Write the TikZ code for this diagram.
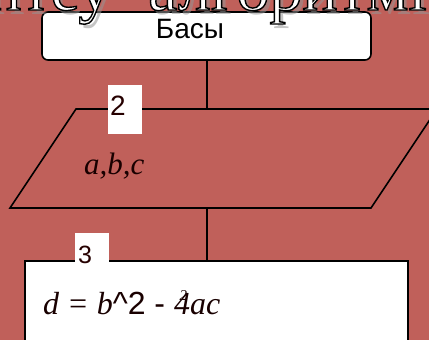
\documentclass[tikz,border=0pt]{standalone}
\usepackage{fontspec}
\setmainfont{Liberation Serif}
\setsansfont{Liberation Sans}
\definecolor{bgred}{RGB}{192,96,90}
\definecolor{shadowgray}{RGB}{150,150,150}
\newcommand{\outlinedtext}[1]{\special{pdf:literal direct 2 Tr 1.4 w 0 G}#1\special{pdf:literal direct 0 Tr}}
\begin{document}
\begin{tikzpicture}[x=1pt,y=-1pt,
  titletext/.style={font=\fontsize{66}{70}\selectfont, inner sep=0pt, anchor=base west},
  titleshadow/.style={titletext, text=shadowgray, opacity=0.55},
  startbox/.style={draw=black, line width=1.6pt, fill=white, rounded corners=6pt,
    minimum width=329pt, minimum height=48pt, inner sep=0pt},
  procbox/.style={draw=black, line width=1.6pt, fill=white,
    minimum width=383pt, minimum height=110pt, inner sep=0pt, anchor=north west},
  iobox/.style={draw=black, line width=1.6pt},
  conn/.style={draw=black, line width=1.6pt},
  numbox/.style={fill=white, inner sep=0pt, anchor=north west},
  numtext/.style={font=\sffamily\fontsize{28}{30}\selectfont, inner sep=0pt, anchor=base, text=black!85!red},
  sanslbl/.style={font=\sffamily\fontsize{28}{32}\selectfont, inner sep=0pt, anchor=base},
  mathlbl/.style={font=\itshape\fontsize{31}{36}\selectfont, inner sep=0pt, anchor=base west, text=black!90!red}
]
\useasboundingbox (0,0) rectangle (429,340);
\clip (0,0) rectangle (429,340);
\fill[bgred] (0,0) rectangle (429,340);

% start terminal
\node[startbox] (start) at (206.5,36) {};
\node[sanslbl] (startlbl) at (190,38) {Басы};

% input parallelogram
\coordinate (p1) at (10,208);
\coordinate (p2) at (371,208);
\coordinate (p3) at (437,109);
\coordinate (p4) at (76,109);
\draw[iobox] (p1) -- (p2) -- (p3) -- (p4) -- cycle;
\coordinate (iotop) at (207,109);
\coordinate (iobot) at (207,208);
\node[mathlbl] (abc) at (84,174) {a,b,c};
\node[numbox, minimum width=34pt, minimum height=49pt] (box2) at (108,85) {};
\node[numtext] (num2) at (118,115) {2};

% process box
\node[procbox] (proc) at (24,260) {};
\node[numbox, minimum width=34pt, minimum height=29pt] (box3) at (75,233) {};
\node[numtext, font=\sffamily\fontsize{25}{28}\selectfont] (num3) at (85,263) {3};
\node[inner sep=0pt, anchor=base west, text=black!90!red] (formula) at (43,314)
  {{\itshape\fontsize{32}{38}\selectfont d = b}{\sffamily\fontsize{32}{38}\selectfont\symbol{94}2 - }{\itshape\fontsize{32}{38}\selectfont 4\llap{\raisebox{14pt}{\fontsize{15}{15}\selectfont 2}\hspace{3pt}}ac}};

% connectors
\draw[conn] (start.south -| iotop) -- (iotop);
\draw[conn] (iobot) -- (iobot |- proc.north);

% title (cut off at the top)
\node[titleshadow] (titleshadow) at (152,14) {\llap{Есептеу\hspace{37pt}}алгоритмі};
\node[titletext, text=white] (title) at (148,10) {\outlinedtext{\llap{Есептеу\hspace{37pt}}алгоритмі}};
\end{tikzpicture}
\end{document}
